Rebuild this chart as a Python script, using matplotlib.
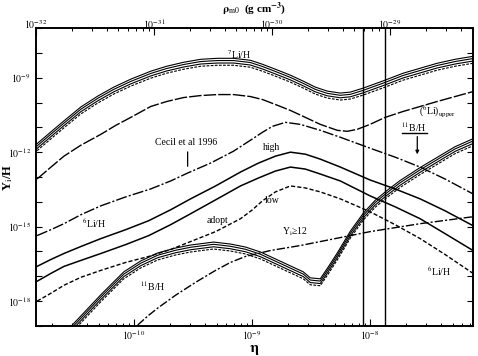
import matplotlib
matplotlib.use("Agg")
import matplotlib.pyplot as plt
import numpy as np
from matplotlib.ticker import FixedLocator, FuncFormatter, NullLocator, LogLocator

plt.rcParams['font.family'] = ['Liberation Serif', 'DejaVu Serif']
plt.rcParams['mathtext.fontset'] = 'stix'

# all curves as (log10 eta, log10 Y/H)
li7_eta = [-10.822, -10.704, -10.594, -10.451, -10.307, -10.172, -10.028, -9.859, -9.724,
           -9.580, -9.436, -9.293, -9.157, -9.014, -8.912, -8.802, -8.675, -8.566, -8.464,
           -8.363, -8.252, -8.167, -8.058, -7.873, -7.720, -7.576, -7.432, -7.280, -7.128]
li7_y = [-11.80, -11.32, -10.88, -10.32, -9.88, -9.52, -9.20, -8.88, -8.68,
         -8.52, -8.40, -8.36, -8.36, -8.44, -8.60, -8.80, -9.04, -9.28, -9.52,
         -9.68, -9.76, -9.72, -9.56, -9.24, -8.96, -8.76, -8.56, -8.40, -8.28]

li6up_eta = [-10.822, -10.704, -10.594, -10.451, -10.281, -10.155, -10.028, -9.859, -9.724,
             -9.580, -9.436, -9.293, -9.157, -9.014, -8.912, -8.802, -8.675, -8.566, -8.422,
             -8.278, -8.193, -8.109, -8.000, -7.873, -7.720, -7.576, -7.432, -7.280, -7.128]
li6up_y = [-13.08, -12.60, -12.16, -11.72, -11.28, -10.92, -10.60, -10.16, -9.96,
           -9.80, -9.72, -9.68, -9.68, -9.76, -9.88, -10.08, -10.32, -10.56, -10.88,
           -11.12, -11.16, -11.08, -10.88, -10.60, -10.36, -10.16, -9.96, -9.76, -9.56]

cecil_eta = [-10.822, -10.704, -10.594, -10.451, -10.281, -10.070, -9.859, -9.690, -9.546,
             -9.352, -9.157, -9.014, -8.912, -8.828, -8.718, -8.591, -8.422, -8.252, -8.000,
             -7.788, -7.576, -7.365, -7.128]
cecil_y = [-15.36, -15.12, -14.88, -14.52, -14.16, -13.80, -13.48, -13.16, -12.84,
           -12.44, -11.96, -11.52, -11.20, -10.96, -10.80, -10.88, -11.12, -11.40, -11.84,
           -12.20, -12.60, -13.08, -13.68]

curve_eta = [-10.822, -10.704, -10.594, -10.451, -10.281, -10.070, -9.876, -9.690, -9.521,
             -9.309, -9.098, -8.946, -8.802, -8.675, -8.549, -8.422, -8.252, -8.000, -7.788,
             -7.576, -7.365, -7.128]
high_y = [-16.60, -16.32, -16.08, -15.80, -15.48, -15.12, -14.76, -14.32, -13.88,
          -13.36, -12.80, -12.44, -12.16, -12.00, -12.08, -12.28, -12.60, -13.12, -13.48,
          -13.88, -14.36, -14.96]
adopt_y = [-17.20, -16.88, -16.60, -16.36, -16.08, -15.72, -15.36, -14.92, -14.48,
           -13.92, -13.36, -13.04, -12.76, -12.60, -12.68, -12.88, -13.16, -13.76, -14.20,
           -14.68, -15.28, -15.96]

low_eta = [-10.822, -10.704, -10.594, -10.451, -10.281, -10.070, -9.876, -9.690, -9.521,
           -9.309, -9.098, -8.997, -8.912, -8.802, -8.675, -8.549, -8.422, -8.252, -8.000,
           -7.788, -7.576, -7.365, -7.128]
low_y = [-18.00, -17.68, -17.36, -17.04, -16.76, -16.44, -16.20, -15.92, -15.60,
         -15.20, -14.68, -14.32, -13.96, -13.60, -13.36, -13.44, -13.60, -13.88, -14.40,
         -14.92, -15.48, -16.12, -16.88]

y12_eta = [-9.969, -9.884, -9.800, -9.648, -9.478, -9.309, -9.183, -9.056, -8.844,
           -8.591, -8.295, -8.000, -7.576, -7.128]
y12_y = [-18.96, -18.60, -18.28, -17.76, -17.24, -16.76, -16.44, -16.20, -15.96,
         -15.76, -15.48, -15.20, -14.88, -14.60]

b11_eta = [-10.535, -10.408, -10.281, -10.180, -10.087, -9.943, -9.800, -9.648, -9.521,
           -9.326, -9.183, -9.056, -8.929, -8.802, -8.675, -8.566, -8.507, -8.422, -8.354,
           -8.278, -8.167, -8.058, -7.957, -7.856, -7.745, -7.576, -7.407, -7.280, -7.128]
b11_y = [-19.16, -18.52, -17.88, -17.40, -16.96, -16.52, -16.20, -16.00, -15.88,
         -15.76, -15.84, -15.96, -16.16, -16.44, -16.72, -16.96, -17.20, -17.24, -16.76,
         -16.20, -15.32, -14.60, -14.08, -13.68, -13.28, -12.76, -12.28, -11.92, -11.60]

eta_limits = [8.75e-9, 1.34e-8]
rho_per_eta = 10 ** -21.169
eta_ticks = [1e-10, 1e-9, 1e-8]
rho_ticks = [1e-32, 1e-31, 1e-30, 1e-29]

fig = plt.figure(figsize=(4.78, 3.56), dpi=100)
ax = fig.add_axes([0.0753, 0.0843, 0.9142, 0.837])
ax.set_xscale('log')
ax.set_yscale('log')
xlim = (1e-32 / rho_per_eta, 10 ** -7.128)
ax.set_xlim(xlim)
ax.set_ylim(1e-19, 1e-7)


def p(e, y):
    return 10 ** np.array(e), 10 ** np.array(y)


def band(e, y):
    e = 10 ** np.array(e)
    y = np.array(y)
    for off, ls in zip([0.14, 0.05, -0.05, -0.14], ['-', '-', '-', (0, (2.5, 1.2))]):
        ax.plot(e, 10 ** (y + off), color='black', lw=0.8, ls=ls)


band(li7_eta, li7_y)
band(b11_eta, b11_y)
ax.plot(*p(li6up_eta, li6up_y), color='black', lw=1.0, ls=(0, (9, 1.5)))
ax.plot(*p(cecil_eta, cecil_y), color='black', lw=1.0, ls=(0, (8, 1.5, 1.5, 1.5)))
ax.plot(*p(curve_eta, high_y), color='black', lw=1.1)
ax.plot(*p(curve_eta, adopt_y), color='black', lw=1.1)
ax.plot(*p(low_eta, low_y), color='black', lw=1.0, ls=(0, (3, 1.5)))
ax.plot(*p(y12_eta, y12_y), color='black', lw=1.0, ls=(0, (6, 1.5, 1.5, 1.5)))
for v in eta_limits:
    ax.axvline(v, color='black', lw=1.0)

# labels
fs = 7
def lab(e, y, s, **kw):
    ax.text(10 ** e, 10 ** y, s, fontsize=fs, ha='center', va='center', **kw)

lab(-9.107, -8.08, r'$^{7}$Li/H')
lab(-9.562, -11.6, 'Cecil et al 1996')
ax.annotate('', xy=(10 ** -9.546, 10 ** -12.68), xytext=(10 ** -9.546, 10 ** -11.88),
            arrowprops=dict(arrowstyle='-', color='black', lw=0.9))
lab(-8.834, -11.8, 'high')
lab(-10.34, -14.88, r'$^{6}$Li/H')
lab(-9.293, -14.76, 'adopt')
lab(-8.834, -13.96, 'low')
lab(-8.632, -15.2, r'Y$_{\rm i}$≥12')
lab(-9.841, -17.4, r'$^{11}$B/H')
lab(-7.432, -10.36, r'($^{6}$Li)$_{\rm upper}$')
lab(-7.627, -11.0, r'$^{11}$B/H')
ax.plot([10 ** -7.73, 10 ** -7.52], [10 ** -11.24, 10 ** -11.24], color='black', lw=1.0)
ax.annotate('', xy=(10 ** -7.60, 10 ** -12.2), xytext=(10 ** -7.60, 10 ** -11.26),
            arrowprops=dict(arrowstyle='-|>', color='black', lw=0.9, mutation_scale=5))
lab(-7.415, -16.8, r'$^{6}$Li/H')

# ticks
expfmt = FuncFormatter(lambda v, pos: r'$10^{%d}$' % round(np.log10(v)))
ax.yaxis.set_major_locator(FixedLocator([10.0 ** k for k in range(-19, -6)]))
ax.yaxis.set_minor_locator(NullLocator())
ax.yaxis.set_major_formatter(FuncFormatter(
    lambda v, pos: r'$10^{%d}$' % round(np.log10(v)) if round(np.log10(v)) in (-18, -15, -12, -9) else ''))
ax.xaxis.set_major_locator(FixedLocator(eta_ticks))
ax.xaxis.set_minor_locator(LogLocator(subs=np.arange(2, 10)))
ax.xaxis.set_major_formatter(expfmt)
ax.tick_params(which='both', direction='in', labelsize=7, top=False, right=True)
ax.tick_params(which='major', length=5, width=0.8)
ax.tick_params(which='minor', length=2.5, width=0.7)
ax.tick_params(axis='y', length=4.5)
ax.tick_params(axis='x', pad=2)

ax2 = ax.twiny()
ax2.set_xscale('log')
ax2.set_xlim(xlim[0] * rho_per_eta, xlim[1] * rho_per_eta)
ax2.xaxis.set_major_locator(FixedLocator(rho_ticks))
ax2.xaxis.set_minor_locator(LogLocator(subs=np.arange(2, 10)))
ax2.xaxis.set_major_formatter(expfmt)
ax2.tick_params(which='both', direction='in', labelsize=7, pad=-2)
ax2.tick_params(which='major', length=5, width=0.8)
ax2.tick_params(which='minor', length=2.5, width=0.7)

for a in (ax, ax2):
    for s in a.spines.values():
        s.set_linewidth(1.2)

ax.set_xlabel(r'$\mathbf{\eta}$', fontsize=11)
ax.xaxis.set_label_coords(0.5, -0.058)
ax.set_ylabel(r'Y$_{\rm i}$/H', fontsize=9, fontweight='bold')
ax.yaxis.set_label_coords(-0.047, 0.5)
ax2.set_xlabel(r'$\mathbf{\rho}_{\rm m0}$  (g cm$^{\mathbf{-3}}$)', fontsize=8, fontweight='bold')
ax2.xaxis.set_label_coords(0.5, 1.055)

fig.savefig('out.png', dpi=100)
